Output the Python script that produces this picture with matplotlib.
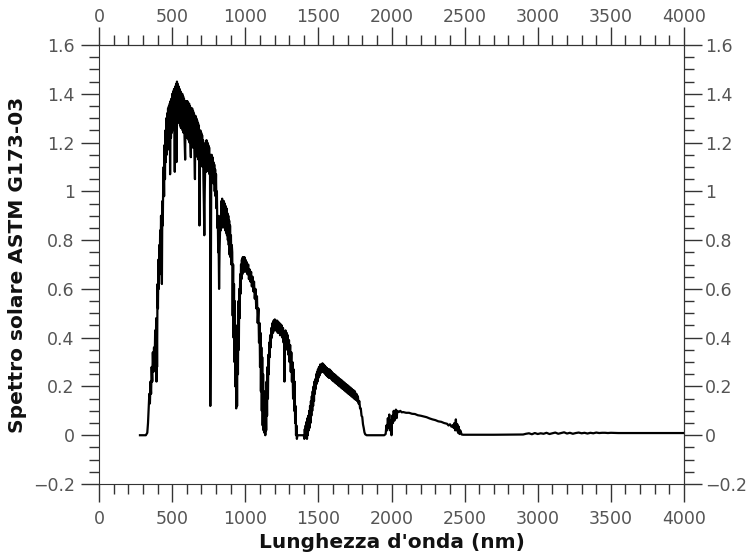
"""
Spettro solare ASTM G173-03, ricostruito a mano dal grafico
"""

import matplotlib.pyplot as plt
from matplotlib.ticker import MultipleLocator, FixedLocator, FuncFormatter

# --- dati (nm, W m^-2 nm^-1) ---
wl_uv = [280, 300, 320, 330, 335, 340, 344, 348, 352, 356, 360, 364, 368, 372,
         376, 380, 384, 388, 391, 393, 395, 397, 400, 403, 406, 409, 412, 415,
         418, 421, 424, 427, 430, 433, 436, 439]
irr_uv = [0.0, 0.0, 0.0, 0.01, 0.05, 0.12, 0.17, 0.13, 0.22, 0.17, 0.28, 0.22,
          0.34, 0.26, 0.36, 0.28, 0.43, 0.34, 0.48, 0.22, 0.45, 0.28, 0.62,
          0.52, 0.72, 0.60, 0.78, 0.66, 0.84, 0.72, 0.90, 0.78, 0.62, 0.96,
          0.86, 1.04]

wl_vis = [442, 445, 448, 451, 454, 457, 460, 463, 466, 469, 472, 475, 478, 481,
          484, 486, 489, 492, 495, 498, 501, 504, 507, 510, 513, 516, 518, 521,
          524, 527, 530, 533, 536, 539, 542, 545, 548, 551, 554, 557, 560, 563,
          566, 569, 572, 575, 578, 581, 584, 589, 592, 595, 598, 601, 604, 607,
          610, 613, 616, 619, 622, 625, 628, 631, 634, 637, 640, 643, 646, 649,
          652, 656, 659, 662, 665, 668, 671, 674, 677, 680, 683, 687, 690, 693,
          696, 699]
irr_vis = [1.10, 0.98, 1.19, 1.05, 1.25, 1.12, 1.30, 1.15, 1.32, 1.17, 1.34,
           1.19, 1.35, 1.20, 1.36, 1.07, 1.37, 1.22, 1.38, 1.24, 1.40, 1.25,
           1.41, 1.26, 1.42, 1.27, 1.08, 1.43, 1.28, 1.44, 1.12, 1.45, 1.30,
           1.44, 1.29, 1.43, 1.28, 1.42, 1.27, 1.41, 1.26, 1.40, 1.26, 1.40,
           1.25, 1.39, 1.24, 1.38, 1.24, 1.13, 1.37, 1.23, 1.37, 1.22, 1.37,
           1.22, 1.36, 1.21, 1.36, 1.20, 1.35, 1.19, 1.14, 1.34, 1.19, 1.34,
           1.18, 1.33, 1.18, 1.32, 1.17, 1.05, 1.31, 1.16, 1.30, 1.15, 1.29,
           1.14, 1.28, 1.13, 1.27, 0.86, 1.20, 1.25, 1.12, 1.24]

wl_nir = [702, 705, 708, 711, 714, 717, 720, 723, 726, 729, 732, 735, 738, 741,
          744, 747, 750, 753, 756, 759, 761, 764, 767, 770, 773, 776, 779, 782,
          785, 788, 791, 794, 797, 800, 803, 806, 809, 812, 815, 818, 821, 824,
          827, 830, 833, 836, 839, 842, 845, 848, 851, 854, 857, 860, 863, 866,
          869, 872, 875, 878, 881, 884, 887, 890, 893, 896, 899, 902, 905, 908,
          911, 914, 917, 920, 923, 926, 929, 932, 935, 938, 941, 944, 947, 950,
          953, 956, 959, 962, 965, 968, 971, 974, 977, 980, 983, 986, 989, 992,
          995, 998]
irr_nir = [1.12, 1.23, 1.10, 1.21, 1.05, 0.95, 0.82, 1.00, 1.10, 1.20, 1.08,
           1.21, 1.10, 1.20, 1.09, 1.19, 1.08, 1.18, 1.07, 1.15, 0.12, 0.50,
           1.00, 1.15, 1.05, 1.14, 1.04, 1.12, 1.03, 1.11, 1.00, 1.09, 0.98,
           1.07, 0.93, 1.00, 0.85, 0.90, 0.75, 0.78, 0.60, 0.75, 0.82, 0.90,
           0.84, 0.96, 0.85, 0.97, 0.86, 0.96, 0.86, 0.96, 0.85, 0.95, 0.84,
           0.94, 0.83, 0.93, 0.82, 0.91, 0.80, 0.90, 0.78, 0.88, 0.74, 0.86,
           0.73, 0.82, 0.70, 0.78, 0.75, 0.49, 0.70, 0.40, 0.62, 0.30, 0.55,
           0.20, 0.45, 0.11, 0.40, 0.12, 0.45, 0.25, 0.55, 0.35, 0.60, 0.48,
           0.66, 0.58, 0.70, 0.64, 0.72, 0.66, 0.73, 0.67, 0.73, 0.67, 0.73,
           0.68]

wl_swir1 = [1001, 1005, 1010, 1015, 1020, 1025, 1030, 1035, 1040, 1045, 1050,
            1055, 1060, 1065, 1070, 1075, 1080, 1085, 1090, 1094, 1098, 1101,
            1104, 1107, 1110, 1113, 1116, 1119, 1122, 1125, 1128, 1131, 1134,
            1137, 1140, 1143, 1146, 1149, 1152, 1155, 1158, 1161, 1164, 1167,
            1170, 1174, 1178, 1182, 1186, 1190, 1194, 1198, 1202, 1206, 1210,
            1214, 1218, 1222, 1226, 1230, 1234, 1238, 1242, 1246, 1250, 1254,
            1258, 1262, 1265, 1268, 1271, 1275, 1279, 1283, 1287, 1291, 1295,
            1299, 1303, 1307, 1311, 1315, 1319, 1323, 1327, 1331, 1335, 1338,
            1341, 1344, 1347, 1350, 1353, 1357, 1370, 1390]
irr_swir1 = [0.72, 0.67, 0.71, 0.66, 0.70, 0.64, 0.68, 0.63, 0.67, 0.61, 0.65,
             0.59, 0.63, 0.56, 0.60, 0.52, 0.57, 0.46, 0.52, 0.38, 0.46, 0.28,
             0.42, 0.18, 0.36, 0.10, 0.32, 0.04, 0.25, 0.02, 0.18, 0.01, 0.12,
             0.0, 0.15, 0.02, 0.22, 0.08, 0.28, 0.15, 0.33, 0.25, 0.38, 0.32,
             0.41, 0.36, 0.44, 0.40, 0.46, 0.42, 0.47, 0.43, 0.475, 0.43, 0.47,
             0.43, 0.47, 0.42, 0.465, 0.42, 0.46, 0.41, 0.455, 0.41, 0.45, 0.40,
             0.44, 0.38, 0.42, 0.22, 0.38, 0.43, 0.37, 0.42, 0.35, 0.41, 0.33,
             0.39, 0.30, 0.37, 0.26, 0.34, 0.22, 0.30, 0.15, 0.27, 0.10, 0.22,
             0.05, 0.12, 0.0, 0.04, -0.015, 0.0, 0.0, 0.0]

wl_swir2 = [1400, 1404, 1407, 1410, 1413, 1416, 1419, 1422, 1425, 1428, 1431,
            1434, 1437, 1440, 1443, 1446, 1449, 1452, 1455, 1458, 1461, 1464,
            1467, 1470, 1473, 1476, 1479, 1482, 1485, 1488, 1491, 1494, 1497,
            1500, 1504, 1508, 1512, 1516, 1520, 1524, 1528, 1532, 1536, 1540,
            1544, 1548, 1552, 1556, 1560, 1564, 1568, 1572, 1576, 1580, 1584,
            1588, 1592, 1596, 1600, 1605, 1610, 1615, 1620, 1625, 1630, 1635,
            1640, 1645, 1650, 1655, 1660, 1665, 1670, 1675, 1680, 1685, 1690,
            1695, 1700, 1705, 1710, 1715, 1720, 1725]
irr_swir2 = [0.0, -0.015, 0.025, -0.01, 0.04, -0.005, 0.055, -0.015, 0.07, 0.0,
             0.08, 0.02, 0.10, 0.03, 0.12, 0.05, 0.14, 0.08, 0.16, 0.10, 0.18,
             0.12, 0.20, 0.14, 0.22, 0.17, 0.23, 0.19, 0.25, 0.21, 0.26, 0.22,
             0.27, 0.235, 0.28, 0.245, 0.29, 0.255, 0.29, 0.26, 0.295, 0.26,
             0.29, 0.255, 0.285, 0.25, 0.28, 0.245, 0.275, 0.24, 0.27, 0.235,
             0.27, 0.235, 0.265, 0.23, 0.26, 0.225, 0.255, 0.22, 0.25, 0.215,
             0.245, 0.21, 0.24, 0.205, 0.235, 0.20, 0.23, 0.195, 0.225, 0.19,
             0.22, 0.185, 0.215, 0.18, 0.21, 0.175, 0.205, 0.17, 0.20, 0.165,
             0.195, 0.16]

wl_tail = [1730, 1735, 1740, 1745, 1750, 1755, 1760, 1765, 1770, 1775, 1780,
           1785, 1790, 1795, 1800, 1805, 1810, 1815, 1820]
irr_tail = [0.19, 0.155, 0.185, 0.15, 0.18, 0.145, 0.17, 0.14, 0.16, 0.13,
            0.14, 0.11, 0.11, 0.08, 0.075, 0.045, 0.03, 0.012, 0.004]

wl_swir3 = [1830, 1900, 1950, 1960, 1965, 1970, 1975, 1980, 1985, 1990, 1995,
            2000, 2005, 2010, 2015, 2020, 2025, 2030, 2035, 2040, 2050, 2060,
            2070, 2080, 2100, 2120, 2140, 2160, 2180, 2200, 2220, 2240, 2260,
            2280, 2300, 2320, 2340, 2360, 2380, 2390, 2400, 2410, 2420, 2425,
            2430, 2435, 2440, 2445, 2450, 2455, 2460, 2465, 2470, 2480, 2490]
irr_swir3 = [0.0, 0.0, 0.0, 0.005, 0.04, 0.02, 0.07, 0.03, 0.085, 0.02, 0.06,
             0.0, 0.08, 0.05, 0.10, 0.06, 0.09, 0.105, 0.07, 0.10, 0.095, 0.10,
             0.094, 0.095, 0.092, 0.092, 0.088, 0.087, 0.082, 0.08, 0.077,
             0.074, 0.069, 0.065, 0.062, 0.057, 0.055, 0.05, 0.047, 0.04, 0.045,
             0.035, 0.042, 0.03, 0.05, 0.02, 0.065, 0.02, 0.045, 0.01, 0.035,
             0.005, 0.02, 0.003, 0.002]

wl_ir = [2500, 2700, 2900, 2920, 2940, 2960, 2980, 3000, 3020, 3040, 3060,
         3080, 3100, 3120, 3140, 3160, 3180, 3200, 3220, 3240, 3260, 3280,
         3300, 3320, 3340, 3360, 3380, 3400, 3420, 3440, 3460, 3480, 3500,
         3550, 3600, 3700, 3800, 4000]
irr_ir = [0.002, 0.002, 0.003, 0.006, 0.008, 0.004, 0.009, 0.005, 0.008, 0.006,
          0.01, 0.005, 0.008, 0.011, 0.006, 0.009, 0.012, 0.007, 0.01, 0.006,
          0.009, 0.011, 0.008, 0.01, 0.007, 0.01, 0.008, 0.011, 0.009, 0.01,
          0.01, 0.009, 0.01, 0.009, 0.009, 0.009, 0.009, 0.009]

wavelength = (wl_uv + wl_vis + wl_nir + wl_swir1 + wl_swir2 + wl_tail
              + wl_swir3 + wl_ir)
irradiance = (irr_uv + irr_vis + irr_nir + irr_swir1 + irr_swir2 + irr_tail
              + irr_swir3 + irr_ir)

# tacche degli assi
x_ticks = [0, 500, 1000, 1500, 2000, 2500, 3000, 3500, 4000]
y_ticks = [-0.2, 0, 0.2, 0.4, 0.6, 0.8, 1, 1.2, 1.4, 1.6]


def gnuplot_fmt(v, pos):
    # 1 invece di 1.0, segno meno tipografico
    return ('%g' % round(v, 6)).replace('-', '\u2212')


def style_ticks(axis_obj, which_axis, pad):
    axis_obj.tick_params(axis=which_axis, which='both', direction='out',
                         colors='#333333', labelcolor='#555555',
                         labelsize=12.5)
    axis_obj.tick_params(axis=which_axis, which='major', length=13, width=1,
                         pad=pad)
    axis_obj.tick_params(axis=which_axis, which='minor', length=7, width=1)


fig = plt.figure(figsize=(7.49, 5.55), dpi=100)
ax = fig.add_axes([0.1322, 0.1279, 0.781, 0.791])

ax.plot(wavelength, irradiance, color='black', linewidth=1.6)

ax.set_xlim(0, 4000)
ax.set_ylim(-0.2, 1.6)
ax.xaxis.set_major_locator(FixedLocator(x_ticks))
ax.xaxis.set_minor_locator(MultipleLocator(100))
ax.yaxis.set_major_locator(FixedLocator(y_ticks))
ax.yaxis.set_minor_locator(MultipleLocator(0.05))
ax.xaxis.set_major_formatter(FuncFormatter(gnuplot_fmt))
ax.yaxis.set_major_formatter(FuncFormatter(gnuplot_fmt))
style_ticks(ax, 'x', 6)
style_ticks(ax, 'y', 4.5)

# assi in alto e a destra separati, per regolare la distanza delle etichette
top = ax.secondary_xaxis('top')
top.xaxis.set_major_locator(FixedLocator(x_ticks))
top.xaxis.set_minor_locator(MultipleLocator(100))
top.xaxis.set_major_formatter(FuncFormatter(gnuplot_fmt))
style_ticks(top, 'x', 0.5)

right = ax.secondary_yaxis('right')
right.yaxis.set_major_locator(FixedLocator(y_ticks))
right.yaxis.set_minor_locator(MultipleLocator(0.05))
right.yaxis.set_major_formatter(FuncFormatter(gnuplot_fmt))
style_ticks(right, 'y', 2)

for a in (ax, top, right):
    for sp in a.spines.values():
        sp.set_color('#333333')

ax.set_xlabel("Lunghezza d'onda (nm)", fontsize=14.5, fontweight='bold',
              color='#111111', labelpad=3)
ax.set_ylabel('Spettro solare ASTM G173-03', fontsize=14.5, fontweight='bold',
              color='#111111', labelpad=4)

fig.savefig('out.png', dpi=100)
